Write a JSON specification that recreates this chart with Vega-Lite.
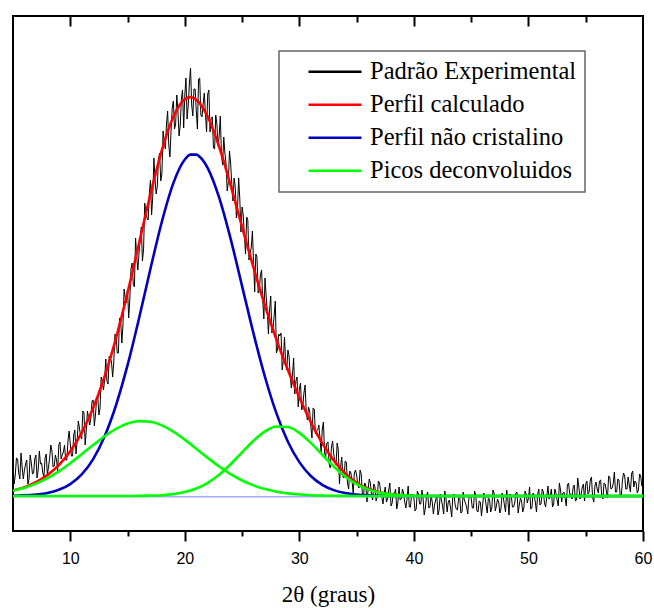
{
"$schema":"https://vega.github.io/schema/vega-lite/v6.json",
"autosize":{"type":"none"},
"padding":{"left":13,"top":16,"right":11,"bottom":77},
"width":630,"height":515,
"background":"white",
"config":{"view":{"stroke":"black","strokeWidth":2},
 "legend":{"strokeWidth":1.5,"strokeColor":"#666666","fillColor":"white","labelFont":"Liberation Serif","labelFontSize":24.5,"labelColor":"black","labelFontWeight":"normal","symbolType":"stroke","symbolSize":2809,"symbolStrokeWidth":2.5,"symbolOffset":19.5,"labelOffset":7,"labelLimit":600,"rowPadding":7,"padding":8.5,"clipHeight":24.5}},
"datasets":{
"exp":[{"x":5.0,"y":33},{"x":5.2,"y":21},{"x":5.4,"y":37},{"x":5.6,"y":17},{"x":5.8,"y":29},{"x":6.0,"y":26},{"x":6.2,"y":36},{"x":6.4,"y":17},{"x":6.6,"y":33},{"x":6.8,"y":23},{"x":7.0,"y":41},{"x":7.2,"y":26},{"x":7.4,"y":32},{"x":7.6,"y":23},{"x":7.8,"y":38},{"x":8.0,"y":21},{"x":8.2,"y":38},{"x":8.4,"y":45},{"x":8.6,"y":30},{"x":8.8,"y":36},{"x":9.0,"y":51},{"x":9.2,"y":37},{"x":9.4,"y":44},{"x":9.6,"y":36},{"x":9.8,"y":55},{"x":10.0,"y":52},{"x":10.2,"y":40},{"x":10.4,"y":66},{"x":10.6,"y":55},{"x":10.8,"y":68},{"x":11.0,"y":57},{"x":11.2,"y":83},{"x":11.4,"y":66},{"x":11.6,"y":78},{"x":11.8,"y":78},{"x":12.0,"y":96},{"x":12.2,"y":81},{"x":12.4,"y":100},{"x":12.6,"y":88},{"x":12.8,"y":114},{"x":13.0,"y":116},{"x":13.2,"y":115},{"x":13.4,"y":140},{"x":13.6,"y":134},{"x":13.8,"y":134},{"x":14.0,"y":160},{"x":14.2,"y":143},{"x":14.4,"y":176},{"x":14.6,"y":171},{"x":14.8,"y":198},{"x":15.0,"y":207},{"x":15.2,"y":197},{"x":15.4,"y":233},{"x":15.6,"y":209},{"x":15.8,"y":239},{"x":16.0,"y":243},{"x":16.2,"y":269},{"x":16.4,"y":247},{"x":16.6,"y":284},{"x":16.8,"y":276},{"x":17.0,"y":316},{"x":17.2,"y":299},{"x":17.4,"y":316},{"x":17.6,"y":310},{"x":17.8,"y":343},{"x":18.0,"y":322},{"x":18.2,"y":355},{"x":18.4,"y":372},{"x":18.6,"y":351},{"x":18.8,"y":366},{"x":19.0,"y":395},{"x":19.2,"y":372},{"x":19.4,"y":385},{"x":19.6,"y":371},{"x":19.8,"y":406},{"x":20.0,"y":401},{"x":20.2,"y":377},{"x":20.4,"y":413},{"x":20.6,"y":391},{"x":20.8,"y":407},{"x":21.0,"y":385},{"x":21.2,"y":417},{"x":21.4,"y":381},{"x":21.6,"y":392},{"x":21.8,"y":382},{"x":22.0,"y":402},{"x":22.2,"y":364},{"x":22.4,"y":379},{"x":22.6,"y":347},{"x":22.8,"y":372},{"x":23.0,"y":360},{"x":23.2,"y":341},{"x":23.4,"y":359},{"x":23.6,"y":332},{"x":23.8,"y":314},{"x":24.0,"y":333},{"x":24.2,"y":295},{"x":24.4,"y":310},{"x":24.6,"y":288},{"x":24.8,"y":297},{"x":25.0,"y":289},{"x":25.2,"y":261},{"x":25.4,"y":279},{"x":25.6,"y":236},{"x":25.8,"y":248},{"x":26.0,"y":234},{"x":26.2,"y":242},{"x":26.4,"y":203},{"x":26.6,"y":221},{"x":26.8,"y":196},{"x":27.0,"y":218},{"x":27.2,"y":185},{"x":27.4,"y":186},{"x":27.6,"y":163},{"x":27.8,"y":180},{"x":28.0,"y":143},{"x":28.2,"y":162},{"x":28.4,"y":163},{"x":28.6,"y":135},{"x":28.8,"y":135},{"x":29.0,"y":146},{"x":29.2,"y":120},{"x":29.4,"y":121},{"x":29.6,"y":102},{"x":29.8,"y":119},{"x":30.0,"y":107},{"x":30.2,"y":86},{"x":30.4,"y":103},{"x":30.6,"y":84},{"x":30.8,"y":89},{"x":31.0,"y":70},{"x":31.2,"y":88},{"x":31.4,"y":62},{"x":31.6,"y":66},{"x":31.8,"y":58},{"x":32.0,"y":67},{"x":32.2,"y":43},{"x":32.4,"y":53},{"x":32.6,"y":32},{"x":32.8,"y":49},{"x":33.0,"y":42},{"x":33.2,"y":31},{"x":33.4,"y":46},{"x":33.6,"y":29},{"x":33.8,"y":19},{"x":34.0,"y":35},{"x":34.2,"y":13},{"x":34.4,"y":25},{"x":34.6,"y":15},{"x":34.8,"y":23},{"x":35.0,"y":21},{"x":35.2,"y":8},{"x":35.4,"y":22},{"x":35.6,"y":0},{"x":35.8,"y":11},{"x":36.0,"y":6},{"x":36.2,"y":13},{"x":36.4,"y":-4},{"x":36.6,"y":9},{"x":36.8,"y":-1},{"x":37.0,"y":13},{"x":37.2,"y":-1},{"x":37.4,"y":3},{"x":37.6,"y":-6},{"x":37.8,"y":6},{"x":38.0,"y":-10},{"x":38.2,"y":3},{"x":38.4,"y":7},{"x":38.6,"y":-7},{"x":38.8,"y":-4},{"x":39.0,"y":7},{"x":39.2,"y":-6},{"x":39.4,"y":-3},{"x":39.6,"y":-11},{"x":39.8,"y":2},{"x":40.0,"y":-2},{"x":40.2,"y":-13},{"x":40.4,"y":2},{"x":40.6,"y":-8},{"x":40.8,"y":-2},{"x":41.0,"y":-12},{"x":41.2,"y":4},{"x":41.4,"y":-11},{"x":41.6,"y":-6},{"x":41.8,"y":-9},{"x":42.0,"y":1},{"x":42.2,"y":-14},{"x":42.4,"y":-4},{"x":42.6,"y":-18},{"x":42.8,"y":-3},{"x":43.0,"y":-6},{"x":43.2,"y":-12},{"x":43.4,"y":1},{"x":43.6,"y":-9},{"x":43.8,"y":-14},{"x":44.0,"y":-1},{"x":44.2,"y":-16},{"x":44.4,"y":-4},{"x":44.6,"y":-11},{"x":44.8,"y":-2},{"x":45.0,"y":-2},{"x":45.2,"y":-12},{"x":45.4,"y":1},{"x":45.6,"y":-16},{"x":45.8,"y":-6},{"x":46.0,"y":-9},{"x":46.2,"y":-1},{"x":46.4,"y":-17},{"x":46.6,"y":-3},{"x":46.8,"y":-12},{"x":47.0,"y":3},{"x":47.2,"y":-10},{"x":47.4,"y":-6},{"x":47.6,"y":-13},{"x":47.8,"y":-1},{"x":48.0,"y":-16},{"x":48.2,"y":-3},{"x":48.4,"y":2},{"x":48.6,"y":-11},{"x":48.8,"y":-7},{"x":49.0,"y":4},{"x":49.2,"y":-9},{"x":49.4,"y":-5},{"x":49.6,"y":-12},{"x":49.8,"y":2},{"x":50.0,"y":-2},{"x":50.2,"y":-13},{"x":50.4,"y":3},{"x":50.6,"y":-6},{"x":50.8,"y":1},{"x":51.0,"y":-9},{"x":51.2,"y":7},{"x":51.4,"y":-7},{"x":51.6,"y":-1},{"x":51.8,"y":-3},{"x":52.0,"y":7},{"x":52.2,"y":-8},{"x":52.4,"y":3},{"x":52.6,"y":-10},{"x":52.8,"y":6},{"x":53.0,"y":3},{"x":53.2,"y":-2},{"x":53.4,"y":11},{"x":53.6,"y":2},{"x":53.8,"y":-3},{"x":54.0,"y":11},{"x":54.2,"y":-4},{"x":54.4,"y":9},{"x":54.6,"y":2},{"x":54.8,"y":12},{"x":55.0,"y":12},{"x":55.2,"y":2},{"x":55.4,"y":16},{"x":55.6,"y":-1},{"x":55.8,"y":10},{"x":56.0,"y":7},{"x":56.2,"y":15},{"x":56.4,"y":0},{"x":56.6,"y":13},{"x":56.8,"y":5},{"x":57.0,"y":20},{"x":57.2,"y":7},{"x":57.4,"y":12},{"x":57.6,"y":4},{"x":57.8,"y":17},{"x":58.0,"y":2},{"x":58.2,"y":15},{"x":58.4,"y":20},{"x":58.6,"y":7},{"x":58.8,"y":11},{"x":59.0,"y":22},{"x":59.2,"y":9},{"x":59.4,"y":13},{"x":59.6,"y":6},{"x":59.8,"y":20},{"x":60.0,"y":16},
{"x":5.1,"y":12},{"x":5.3,"y":38},{"x":5.5,"y":23},{"x":5.7,"y":43},{"x":5.9,"y":17},{"x":6.1,"y":32},{"x":6.3,"y":12},{"x":6.5,"y":41},{"x":6.7,"y":22},{"x":6.9,"y":37},{"x":7.1,"y":18},{"x":7.3,"y":45},{"x":7.5,"y":33},{"x":7.7,"y":19},{"x":7.9,"y":42},{"x":8.1,"y":29},{"x":8.3,"y":51},{"x":8.5,"y":29},{"x":8.7,"y":41},{"x":8.9,"y":25},{"x":9.1,"y":54},{"x":9.3,"y":41},{"x":9.5,"y":51},{"x":9.7,"y":36},{"x":9.9,"y":65},{"x":10.1,"y":40},{"x":10.3,"y":61},{"x":10.5,"y":42},{"x":10.7,"y":75},{"x":10.9,"y":60},{"x":11.1,"y":85},{"x":11.3,"y":51},{"x":11.5,"y":85},{"x":11.7,"y":71},{"x":11.9,"y":95},{"x":12.1,"y":70},{"x":12.3,"y":97},{"x":12.5,"y":81},{"x":12.7,"y":119},{"x":12.9,"y":106},{"x":13.1,"y":137},{"x":13.3,"y":112},{"x":13.5,"y":138},{"x":13.7,"y":119},{"x":13.9,"y":162},{"x":14.1,"y":143},{"x":14.3,"y":178},{"x":14.5,"y":153},{"x":14.7,"y":207},{"x":14.9,"y":193},{"x":15.1,"y":178},{"x":15.3,"y":227},{"x":15.5,"y":212},{"x":15.7,"y":258},{"x":15.9,"y":226},{"x":16.1,"y":256},{"x":16.3,"y":235},{"x":16.5,"y":293},{"x":16.7,"y":278},{"x":16.9,"y":302},{"x":17.1,"y":281},{"x":17.3,"y":338},{"x":17.5,"y":302},{"x":17.7,"y":337},{"x":17.9,"y":315},{"x":18.1,"y":365},{"x":18.3,"y":347},{"x":18.5,"y":385},{"x":18.7,"y":339},{"x":18.9,"y":388},{"x":19.1,"y":367},{"x":19.3,"y":401},{"x":19.5,"y":360},{"x":19.7,"y":397},{"x":19.9,"y":368},{"x":20.1,"y":418},{"x":20.3,"y":391},{"x":20.5,"y":428},{"x":20.7,"y":380},{"x":20.9,"y":407},{"x":21.1,"y":367},{"x":21.3,"y":418},{"x":21.5,"y":379},{"x":21.7,"y":403},{"x":21.9,"y":364},{"x":22.1,"y":406},{"x":22.3,"y":378},{"x":22.5,"y":348},{"x":22.7,"y":381},{"x":22.9,"y":350},{"x":23.1,"y":380},{"x":23.3,"y":331},{"x":23.5,"y":343},{"x":23.7,"y":305},{"x":23.9,"y":345},{"x":24.1,"y":312},{"x":24.3,"y":318},{"x":24.5,"y":278},{"x":24.7,"y":318},{"x":24.9,"y":264},{"x":25.1,"y":281},{"x":25.3,"y":242},{"x":25.5,"y":276},{"x":25.7,"y":243},{"x":25.9,"y":265},{"x":26.1,"y":204},{"x":26.3,"y":239},{"x":26.5,"y":206},{"x":26.7,"y":226},{"x":26.9,"y":177},{"x":27.1,"y":200},{"x":27.3,"y":162},{"x":27.5,"y":200},{"x":27.7,"y":168},{"x":27.9,"y":195},{"x":28.1,"y":147},{"x":28.3,"y":160},{"x":28.5,"y":126},{"x":28.7,"y":159},{"x":28.9,"y":126},{"x":29.1,"y":140},{"x":29.3,"y":108},{"x":29.5,"y":138},{"x":29.7,"y":115},{"x":29.9,"y":89},{"x":30.1,"y":113},{"x":30.3,"y":90},{"x":30.5,"y":111},{"x":30.7,"y":76},{"x":30.9,"y":85},{"x":31.1,"y":58},{"x":31.3,"y":87},{"x":31.5,"y":65},{"x":31.7,"y":71},{"x":31.9,"y":44},{"x":32.1,"y":74},{"x":32.3,"y":39},{"x":32.5,"y":54},{"x":32.7,"y":28},{"x":32.9,"y":55},{"x":33.1,"y":34},{"x":33.3,"y":53},{"x":33.5,"y":12},{"x":33.7,"y":39},{"x":33.9,"y":18},{"x":34.1,"y":34},{"x":34.3,"y":7},{"x":34.5,"y":23},{"x":34.7,"y":3},{"x":34.9,"y":26},{"x":35.1,"y":11},{"x":35.3,"y":26},{"x":35.5,"y":2},{"x":35.7,"y":13},{"x":35.9,"y":-6},{"x":36.1,"y":17},{"x":36.3,"y":1},{"x":36.5,"y":12},{"x":36.7,"y":-5},{"x":36.9,"y":15},{"x":37.1,"y":4},{"x":37.3,"y":-8},{"x":37.5,"y":9},{"x":37.7,"y":-3},{"x":37.9,"y":13},{"x":38.1,"y":-7},{"x":38.3,"y":2},{"x":38.5,"y":-13},{"x":38.7,"y":9},{"x":38.9,"y":-3},{"x":39.1,"y":3},{"x":39.3,"y":-12},{"x":39.5,"y":10},{"x":39.7,"y":-11},{"x":39.9,"y":0},{"x":40.1,"y":-15},{"x":40.3,"y":5},{"x":40.5,"y":-8},{"x":40.7,"y":6},{"x":40.9,"y":-19},{"x":41.1,"y":0},{"x":41.3,"y":-12},{"x":41.5,"y":1},{"x":41.7,"y":-18},{"x":41.9,"y":-4},{"x":42.1,"y":-19},{"x":42.3,"y":2},{"x":42.5,"y":-10},{"x":42.7,"y":5},{"x":42.9,"y":-16},{"x":43.1,"y":-4},{"x":43.3,"y":-21},{"x":43.5,"y":2},{"x":43.7,"y":-13},{"x":43.9,"y":-2},{"x":44.1,"y":-17},{"x":44.3,"y":4},{"x":44.5,"y":-7},{"x":44.7,"y":-18},{"x":44.9,"y":0},{"x":45.1,"y":-12},{"x":45.3,"y":5},{"x":45.5,"y":-15},{"x":45.7,"y":-5},{"x":45.9,"y":-20},{"x":46.1,"y":3},{"x":46.3,"y":-9},{"x":46.5,"y":-2},{"x":46.7,"y":-16},{"x":46.9,"y":6},{"x":47.1,"y":-15},{"x":47.3,"y":-3},{"x":47.5,"y":-17},{"x":47.7,"y":3},{"x":47.9,"y":-9},{"x":48.1,"y":6},{"x":48.3,"y":-19},{"x":48.5,"y":1},{"x":48.7,"y":-11},{"x":48.9,"y":3},{"x":49.1,"y":-17},{"x":49.3,"y":-2},{"x":49.5,"y":-16},{"x":49.7,"y":5},{"x":49.9,"y":-7},{"x":50.1,"y":9},{"x":50.3,"y":-12},{"x":50.5,"y":0},{"x":50.7,"y":-16},{"x":50.9,"y":7},{"x":51.1,"y":-8},{"x":51.3,"y":4},{"x":51.5,"y":-11},{"x":51.7,"y":10},{"x":51.9,"y":0},{"x":52.1,"y":-11},{"x":52.3,"y":7},{"x":52.5,"y":-4},{"x":52.7,"y":13},{"x":52.9,"y":-6},{"x":53.1,"y":4},{"x":53.3,"y":-10},{"x":53.5,"y":13},{"x":53.7,"y":2},{"x":53.9,"y":9},{"x":54.1,"y":-5},{"x":54.3,"y":18},{"x":54.5,"y":-3},{"x":54.7,"y":9},{"x":54.9,"y":-5},{"x":55.1,"y":15},{"x":55.3,"y":4},{"x":55.5,"y":19},{"x":55.7,"y":-6},{"x":55.9,"y":14},{"x":56.1,"y":3},{"x":56.3,"y":16},{"x":56.5,"y":-3},{"x":56.7,"y":12},{"x":56.9,"y":-2},{"x":57.1,"y":19},{"x":57.3,"y":8},{"x":57.5,"y":24},{"x":57.7,"y":4},{"x":57.9,"y":16},{"x":58.1,"y":-1},{"x":58.3,"y":23},{"x":58.5,"y":7},{"x":58.7,"y":19},{"x":58.9,"y":4},{"x":59.1,"y":25},{"x":59.3,"y":15},{"x":59.5,"y":3},{"x":59.7,"y":22},{"x":59.9,"y":10}],
"red":[{"x":5,"y":5.6},{"x":6,"y":8.8},{"x":7,"y":13.8},{"x":8,"y":20.9},{"x":9,"y":30.9},{"x":10,"y":44.7},{"x":11,"y":63.4},{"x":12,"y":87.9},{"x":13,"y":119.5},{"x":14,"y":158.2},{"x":15,"y":203.2},{"x":16,"y":252.5},{"x":17,"y":301.8},{"x":18,"y":345.9},{"x":19,"y":379.2},{"x":20,"y":396.8},{"x":20.5,"y":398.9},{"x":21,"y":396.2},{"x":21.5,"y":389.5},{"x":22,"y":379.2},{"x":23,"y":349.1},{"x":24,"y":310.7},{"x":25,"y":269.1},{"x":26,"y":228.3},{"x":27,"y":190.5},{"x":28,"y":156.4},{"x":29,"y":125.9},{"x":30,"y":98.5},{"x":31,"y":73.9},{"x":32,"y":52.8},{"x":33,"y":35.6},{"x":34,"y":22.6},{"x":35,"y":13.2},{"x":36,"y":7.2},{"x":37,"y":3.7},{"x":38,"y":1.7},{"x":39,"y":0.7},{"x":40,"y":0.3}],
"blue":[{"x":5,"y":0.3},{"x":6,"y":0.6},{"x":7,"y":1.4},{"x":8,"y":3.0},{"x":9,"y":6.2},{"x":10,"y":11.9},{"x":11,"y":21.6},{"x":12,"y":36.9},{"x":13,"y":59.7},{"x":14,"y":91.0},{"x":15,"y":130.8},{"x":16,"y":177.5},{"x":17,"y":227.2},{"x":18,"y":274.5},{"x":19,"y":312.9},{"x":20,"y":336.5},{"x":20.5,"y":341.4},{"x":21,"y":341.4},{"x":21.5,"y":336.8},{"x":22,"y":327.9},{"x":23,"y":298.3},{"x":24,"y":257.1},{"x":25,"y":209.9},{"x":26,"y":162.4},{"x":27,"y":119.0},{"x":28,"y":82.6},{"x":29,"y":54.3},{"x":30,"y":33.9},{"x":31,"y":20.0},{"x":32,"y":11.2},{"x":33,"y":5.9},{"x":34,"y":3.0},{"x":35,"y":1.4},{"x":36,"y":0.6},{"x":37,"y":0.3},{"x":38,"y":0.1},{"x":40,"y":0},{"x":60,"y":0}],
"g1":[{"x":5,"y":5.3},{"x":6,"y":8.2},{"x":7,"y":12.4},{"x":8,"y":17.9},{"x":9,"y":24.7},{"x":10,"y":32.8},{"x":11,"y":41.8},{"x":12,"y":51.0},{"x":13,"y":59.8},{"x":14,"y":67.2},{"x":15,"y":72.4},{"x":16,"y":74.9},{"x":17,"y":74.2},{"x":18,"y":70.6},{"x":19,"y":64.4},{"x":20,"y":56.4},{"x":21,"y":47.3},{"x":22,"y":38.1},{"x":23,"y":29.5},{"x":24,"y":21.8},{"x":25,"y":15.5},{"x":26,"y":10.6},{"x":27,"y":6.9},{"x":28,"y":4.3},{"x":29,"y":2.6},{"x":30,"y":1.5},{"x":31,"y":0.8},{"x":32,"y":0.4},{"x":33,"y":0.2},{"x":34,"y":0.1},{"x":36,"y":0},{"x":60,"y":0}],
"g2":[{"x":5,"y":0},{"x":15,"y":0},{"x":16,"y":0.1},{"x":17,"y":0.4},{"x":18,"y":0.8},{"x":19,"y":1.9},{"x":20,"y":3.9},{"x":21,"y":7.5},{"x":22,"y":13.2},{"x":23,"y":21.3},{"x":24,"y":31.8},{"x":25,"y":43.7},{"x":26,"y":55.3},{"x":27,"y":64.6},{"x":28,"y":69.5},{"x":29,"y":69.0},{"x":30,"y":63.1},{"x":31,"y":53.1},{"x":32,"y":41.2},{"x":33,"y":29.5},{"x":34,"y":19.5},{"x":35,"y":11.8},{"x":36,"y":6.6},{"x":37,"y":3.4},{"x":38,"y":1.6},{"x":39,"y":0.7},{"x":40,"y":0.3},{"x":42,"y":0},{"x":60,"y":0}],
"base":[{"y":-0.8}]
},
"resolve":{"axis":{"x":"independent"}},
"layer":[
{"data":{"name":"exp"},"mark":{"type":"line","strokeWidth":1,"interpolate":"linear"},
 "encoding":{
  "x":{"field":"x","type":"quantitative","scale":{"domain":[5,60],"nice":false,"zero":false},
   "axis":{"orient":"bottom","values":[10,15,20,25,30,35,40,45,50,55,60],"labelExpr":"datum.value % 10 === 0 ? datum.label : ''",
    "tickSize":{"condition":{"test":"datum.value % 10 === 0","value":10},"value":5},"tickWidth":2,"tickColor":"black","domain":false,"grid":false,
    "labelFont":"Liberation Sans","labelFontSize":16,"labelColor":"black","labelPadding":9.5,"labelFlush":false,"labelOverlap":false,
    "title":"2θ (graus)","titleFont":"Liberation Serif","titleFontSize":23,"titleFontWeight":"normal","titleColor":"black","titlePadding":17}},
  "y":{"field":"y","type":"quantitative","scale":{"domain":[-35,480],"nice":false,"zero":false},"axis":null},
  "color":{"datum":"Padrão Experimental","type":"nominal",
   "scale":{"domain":["Padrão Experimental","Perfil calculado","Perfil não cristalino","Picos deconvoluidos"],"range":["#000000","#ff0000","#0000c0","#00ff00"]},
   "legend":{"orient":"none","legendX":266,"legendY":35,"title":null,"symbolType":"stroke","symbolSize":2809,"symbolStrokeWidth":2.5,"symbolOffset":19.5,
    "labelFont":"Liberation Serif","labelFontSize":24.5,"labelColor":"black","labelOffset":7,"labelLimit":600,"rowPadding":7,"padding":8.5,"clipHeight":24.5,
    "strokeColor":"#666666","fillColor":"white","labelExpr":"datum.label + '\u00a0\u00a0\u00a0\u00a0\u00a0'",
    "encode":{"symbols":{"update":{"stroke":[{"test":"datum.value === 'Padrão Experimental'","value":"#aaaaaa"},{"scale":"color","field":"value"}]}}}}}
 }},
{"data":{"name":"base"},"mark":{"type":"rule","color":"#a8a8ff","strokeWidth":1.5},
 "encoding":{"y":{"field":"y","type":"quantitative"}}},
{"data":{"name":"blue"},"mark":{"type":"line","strokeWidth":2.6,"interpolate":"monotone"},
 "encoding":{"x":{"field":"x","type":"quantitative","axis":null},"y":{"field":"y","type":"quantitative"},"color":{"datum":"Perfil não cristalino","type":"nominal",
  "legend":{"encode":{"symbols":{"update":{"stroke":[{"test":"datum.value === 'Padrão Experimental'","value":"#aaaaaa"},{"scale":"color","field":"value"}]}}}}}}},
{"data":{"name":"red"},"mark":{"type":"line","strokeWidth":2.6,"interpolate":"monotone"},
 "encoding":{"x":{"field":"x","type":"quantitative",
   "axis":{"orient":"top","values":[10,15,20,25,30,35,40,45,50,55],"labels":false,"tickSize":{"condition":{"test":"datum.value % 10 === 0","value":-10},"value":-6},"tickWidth":2,"tickColor":"black","domain":false,"grid":false,"title":null}},
  "y":{"field":"y","type":"quantitative"},"color":{"datum":"Perfil calculado","type":"nominal",
  "legend":{"encode":{"symbols":{"update":{"stroke":[{"test":"datum.value === 'Padrão Experimental'","value":"#aaaaaa"},{"scale":"color","field":"value"}]}}}}}}},
{"data":{"name":"g1"},"mark":{"type":"line","strokeWidth":2.6,"interpolate":"monotone"},
 "encoding":{"x":{"field":"x","type":"quantitative","axis":null},"y":{"field":"y","type":"quantitative"},"color":{"datum":"Picos deconvoluidos","type":"nominal",
  "legend":{"encode":{"symbols":{"update":{"stroke":[{"test":"datum.value === 'Padrão Experimental'","value":"#aaaaaa"},{"scale":"color","field":"value"}]}}}}}}},
{"data":{"name":"g2"},"mark":{"type":"line","strokeWidth":2.6,"interpolate":"monotone"},
 "encoding":{"x":{"field":"x","type":"quantitative","axis":null},"y":{"field":"y","type":"quantitative"},"color":{"datum":"Picos deconvoluidos","type":"nominal",
  "legend":{"encode":{"symbols":{"update":{"stroke":[{"test":"datum.value === 'Padrão Experimental'","value":"#aaaaaa"},{"scale":"color","field":"value"}]}}}}}}}
]
}
